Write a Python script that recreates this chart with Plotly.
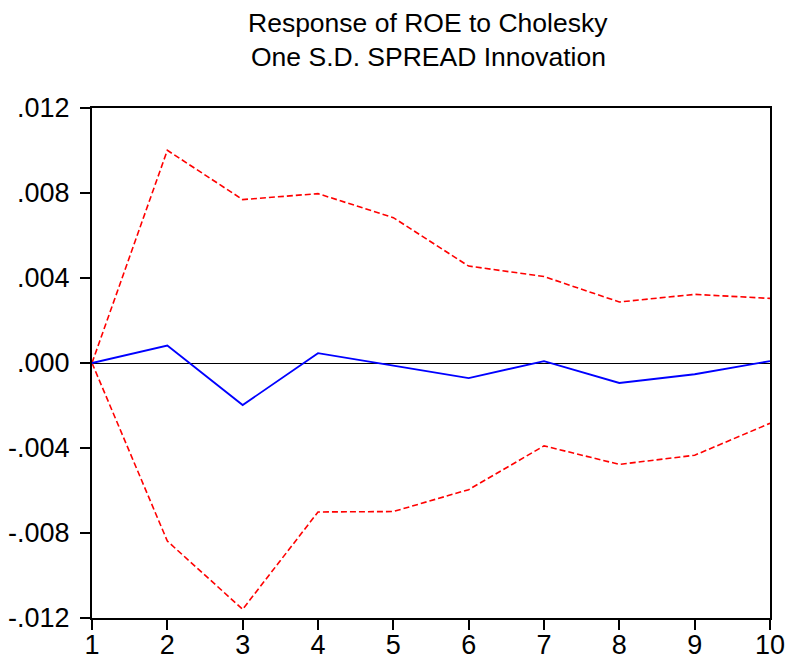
import plotly.graph_objects as go

periods = [1, 2, 3, 4, 5, 6, 7, 8, 9, 10]
response = [0.0, 0.00082, -0.00198, 0.00046, -0.00012, -0.00071, 0.00009, -0.00094, -0.00053, 0.00009]
upper = [0.0, 0.01001, 0.00769, 0.00797, 0.00684, 0.00456, 0.00407, 0.00287, 0.00323, 0.00304]
lower = [0.0, -0.00838, -0.01159, -0.00701, -0.00699, -0.00596, -0.00390, -0.00477, -0.00434, -0.00284]
ytick_vals = [-0.012, -0.008, -0.004, 0.0, 0.004, 0.008, 0.012]
ytick_text = ["-.012", "-.008", "-.004", ".000", ".004", ".008", ".012"]
title_lines = ["Response of ROE to Cholesky", "One S.D. SPREAD Innovation"]

fig = go.Figure()
fig.add_trace(go.Scatter(x=periods, y=upper, mode="lines",
                         line=dict(color="#ff0000", width=1.6, dash="6px,3px")))
fig.add_trace(go.Scatter(x=periods, y=lower, mode="lines",
                         line=dict(color="#ff0000", width=1.6, dash="6px,3px")))
fig.add_trace(go.Scatter(x=periods, y=response, mode="lines",
                         line=dict(color="#0000ff", width=1.8)))

plot_top, plot_bottom = 108, 618
for txt, ypix in zip(title_lines, [23, 57]):
    fig.add_annotation(text=txt, xref="paper", yref="paper", x=0.496,
                       y=(plot_bottom - ypix) / (plot_bottom - plot_top),
                       xanchor="center", yanchor="middle", showarrow=False,
                       font=dict(size=26.5, color="black"))

fig.update_layout(
    width=789, height=662,
    margin=dict(l=92, r=19, t=108, b=44),
    paper_bgcolor="white", plot_bgcolor="white",
    showlegend=False,
    font=dict(family="Liberation Sans, Arial", color="black"),
)
fig.update_xaxes(range=[1, 10], tickvals=periods, ticks="outside", ticklen=10,
                 tickwidth=1.5, tickcolor="black", showline=True, linecolor="black",
                 linewidth=2, mirror=True, showgrid=False, zeroline=False,
                 tickfont=dict(size=27), ticklabelstandoff=-8, automargin=False)
fig.update_yaxes(range=[-0.012, 0.012], tickvals=ytick_vals, ticktext=ytick_text,
                 ticks="outside", ticklen=10, tickwidth=1.5, tickcolor="black",
                 showline=True, linecolor="black", linewidth=2, mirror=True,
                 showgrid=False, zeroline=True, zerolinecolor="black", zerolinewidth=1.2,
                 tickfont=dict(size=27), ticklabelstandoff=5, automargin=False)

fig.write_html("out.html")
